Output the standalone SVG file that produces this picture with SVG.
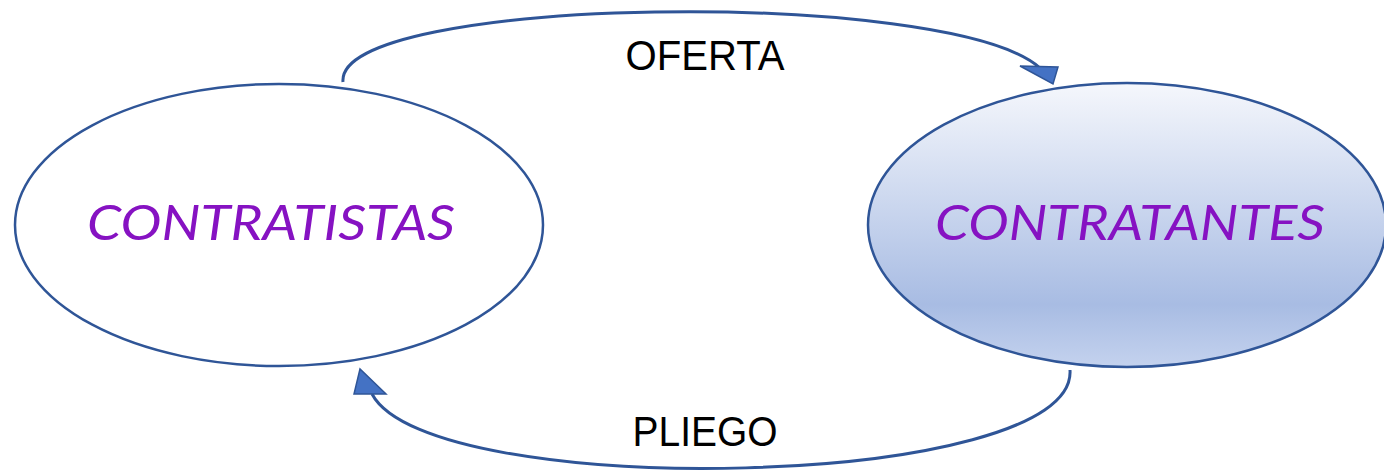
<svg xmlns="http://www.w3.org/2000/svg" width="1384" height="472" viewBox="0 0 1384 472">
<style>
.node{stroke:#2F5597;stroke-width:2.5}
.lbl{font-family:"Lato","Open Sans",sans-serif;font-style:italic;font-size:48px;fill:#8612C2}
.edge{fill:none;stroke:#2F5597;stroke-width:3}
.head{fill:#4472C4;stroke:#2F5597;stroke-width:1.5}
.elbl{font-family:"Liberation Sans",Arial,sans-serif;font-size:42px;fill:#000}
</style>
<defs>
<linearGradient id="g" x1="0" y1="0" x2="0" y2="1">
<stop offset="0" stop-color="#F5F7FC"/>
<stop offset="0.78" stop-color="#A8BCE3"/>
<stop offset="1" stop-color="#C4D2EE"/>
</linearGradient>
</defs>
<g id="connectors">
<path class="edge" d="M343,82 C335,-5 950,-13 1040,68"/>
<polygon class="head" points="1020,66 1058,67 1053,84"/>
<path class="edge" d="M1070,370 C1078,490 430,503 372,394"/>
<polygon class="head" points="354,394 386,394 360,369"/>
<text class="elbl" x="705" y="70" text-anchor="middle" textLength="159" lengthAdjust="spacingAndGlyphs">OFERTA</text>
<text class="elbl" x="705" y="446" text-anchor="middle" textLength="145" lengthAdjust="spacingAndGlyphs">PLIEGO</text>
</g>
<g id="contratistas">
<ellipse class="node" cx="279" cy="225" rx="264" ry="141" fill="#FFFFFF"/>
<text class="lbl" x="87" y="240" textLength="368" lengthAdjust="spacingAndGlyphs">CONTRATISTAS</text>
</g>
<g id="contratantes">
<ellipse class="node" cx="1127" cy="225" rx="259" ry="142" fill="url(#g)"/>
<text class="lbl" x="935" y="240" textLength="390" lengthAdjust="spacingAndGlyphs">CONTRATANTES</text>
</g>
</svg>
